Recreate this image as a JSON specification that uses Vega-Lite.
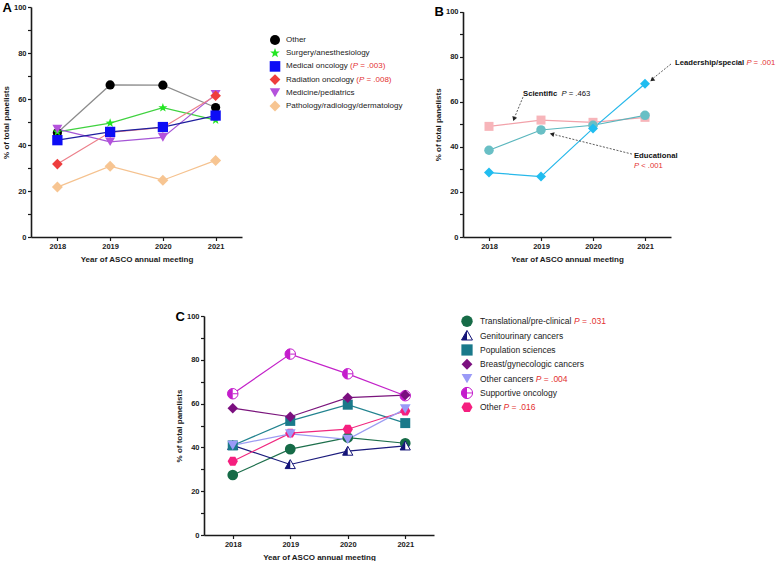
{
"$schema":"https://vega.github.io/schema/vega-lite/v6.json",
"padding":{"left":2,"top":2,"right":0,"bottom":0},
"background":"white",
"bounds":"full",
"spacing":48,
"resolve":{"scale":{"color":"independent","stroke":"independent","shape":"independent","size":"independent"}},
"config":{
 "font":"Liberation Sans",
 "view":{"stroke":null},
 "axis":{"grid":false,"domainColor":"#1a1a1a","domainWidth":1.6,"tickColor":"#1a1a1a","tickWidth":1.2,"tickSize":3.5,"labelFont":"Liberation Sans","labelFontSize":7.5,"labelFontWeight":"bold","labelColor":"#1a1a1a","labelPadding":1.5,"titleFont":"Liberation Sans","titleFontSize":8,"titleFontWeight":"bold","titleColor":"#1a1a1a","labelOverlap":false},
 "axisX":{"titlePadding":5,"labelPadding":2},
 "axisY":{"titlePadding":3},
 "title":{"anchor":"start","frame":"bounds","font":"Liberation Sans","fontSize":13,"fontWeight":"bold","color":"#000000"},
 "text":{"font":"Liberation Sans"}
},
"datasets":{
 "dA":[
  {"g":"Other","year":2018,"pct":45.3},{"g":"Other","year":2019,"pct":66.1},{"g":"Other","year":2020,"pct":66.0},{"g":"Other","year":2021,"pct":56.3},
  {"g":"Surgery/anesthesiology","year":2018,"pct":45.7},{"g":"Surgery/anesthesiology","year":2019,"pct":49.5},{"g":"Surgery/anesthesiology","year":2020,"pct":56.2},{"g":"Surgery/anesthesiology","year":2021,"pct":50.8},
  {"g":"Medicine/pediatrics","year":2018,"pct":46.9},{"g":"Medicine/pediatrics","year":2019,"pct":41.4},{"g":"Medicine/pediatrics","year":2020,"pct":43.3},{"g":"Medicine/pediatrics","year":2021,"pct":62.0},
  {"g":"Radiation oncology","year":2018,"pct":31.7},{"g":"Radiation oncology","year":2019,"pct":45.5},{"g":"Radiation oncology","year":2020,"pct":47.6},{"g":"Radiation oncology","year":2021,"pct":61.4},
  {"g":"Medical oncology","year":2018,"pct":42.1},{"g":"Medical oncology","year":2019,"pct":45.7},{"g":"Medical oncology","year":2020,"pct":47.8},{"g":"Medical oncology","year":2021,"pct":52.8},
  {"g":"Pathology/radiology/dermatology","year":2018,"pct":21.7},{"g":"Pathology/radiology/dermatology","year":2019,"pct":30.8},{"g":"Pathology/radiology/dermatology","year":2020,"pct":24.7},{"g":"Pathology/radiology/dermatology","year":2021,"pct":33.3}
 ],
 "dB":[
  {"g":"Scientific","year":2018,"pct":49.1},{"g":"Scientific","year":2019,"pct":51.9},{"g":"Scientific","year":2020,"pct":50.9},{"g":"Scientific","year":2021,"pct":53.1},
  {"g":"Educational","year":2018,"pct":38.5},{"g":"Educational","year":2019,"pct":47.5},{"g":"Educational","year":2020,"pct":49.6},{"g":"Educational","year":2021,"pct":54.0},
  {"g":"Leadership/special","year":2018,"pct":28.6},{"g":"Leadership/special","year":2019,"pct":26.8},{"g":"Leadership/special","year":2020,"pct":48.2},{"g":"Leadership/special","year":2021,"pct":68.0}
 ],
 "dC":[
  {"g":"Supportive oncology","year":2018,"pct":64.5},{"g":"Supportive oncology","year":2019,"pct":82.6},{"g":"Supportive oncology","year":2020,"pct":73.6},{"g":"Supportive oncology","year":2021,"pct":63.6},
  {"g":"Translational/pre-clinical","year":2018,"pct":27.4},{"g":"Translational/pre-clinical","year":2019,"pct":39.2},{"g":"Translational/pre-clinical","year":2020,"pct":44.5},{"g":"Translational/pre-clinical","year":2021,"pct":41.9},
  {"g":"Genitourinary cancers","year":2018,"pct":40.9},{"g":"Genitourinary cancers","year":2019,"pct":32.2},{"g":"Genitourinary cancers","year":2020,"pct":38.3},{"g":"Genitourinary cancers","year":2021,"pct":40.7},
  {"g":"Population sciences","year":2018,"pct":40.9},{"g":"Population sciences","year":2019,"pct":52.1},{"g":"Population sciences","year":2020,"pct":59.5},{"g":"Population sciences","year":2021,"pct":51.1},
  {"g":"Other","year":2018,"pct":33.7},{"g":"Other","year":2019,"pct":46.5},{"g":"Other","year":2020,"pct":48.3},{"g":"Other","year":2021,"pct":56.6},
  {"g":"Breast/gynecologic cancers","year":2018,"pct":57.9},{"g":"Breast/gynecologic cancers","year":2019,"pct":54.0},{"g":"Breast/gynecologic cancers","year":2020,"pct":62.7},{"g":"Breast/gynecologic cancers","year":2021,"pct":63.9},
  {"g":"Other cancers","year":2018,"pct":40.9},{"g":"Other cancers","year":2019,"pct":46.2},{"g":"Other cancers","year":2020,"pct":43.7},{"g":"Other cancers","year":2021,"pct":57.6}
 ]
},
"vconcat":[
 {
 "resolve":{"scale":{"color":"independent","stroke":"independent","shape":"independent","size":"independent"}},
 "bounds":"flush","spacing":0,
 "hconcat":[
 {
  "width":211,"height":230,
  "title":{"text":"A","offset":-12},
  "data":{"name":"dA"},
  "encoding":{
   "x":{"field":"year","type":"quantitative","scale":{"domain":[2017.5,2021.5],"nice":false,"zero":false},"axis":{"values":[2018,2019,2020,2021],"format":"d","title":"Year of ASCO annual meeting"}},
   "y":{"field":"pct","type":"quantitative","scale":{"domain":[0,100],"nice":false},"axis":{"values":[0,10,20,30,40,50,60,70,80,90,100],"labelExpr":"datum.value % 20 === 0 ? datum.label : ''","title":"% of total panelists"}}
  },
  "layer":[
   {"mark":{"type":"line","strokeWidth":1.2},"encoding":{"stroke":{"field":"g","type":"nominal","scale":{"domain":["Other","Surgery/anesthesiology","Medicine/pediatrics","Medical oncology","Radiation oncology","Pathology/radiology/dermatology"],"range":["#8c8c8c","#3fd23f","#a556d6","#1f1f9e","#ec7f8a","#f5c28f"]},"legend":null}}},
   {"mark":{"type":"point","filled":true,"opacity":1},"encoding":{
     "shape":{"field":"g","type":"nominal","scale":{"domain":["Other","Surgery/anesthesiology","Medicine/pediatrics","Medical oncology","Radiation oncology","Pathology/radiology/dermatology"],"range":["circle","M0,-1L0.235,-0.324L0.951,-0.309L0.38,0.124L0.588,0.809L0,0.4L-0.588,0.809L-0.38,0.124L-0.951,-0.309L-0.235,-0.324Z","triangle-down","square","diamond","diamond"]},"legend":null},
     "color":{"field":"g","type":"nominal","scale":{"domain":["Other","Surgery/anesthesiology","Medicine/pediatrics","Medical oncology","Radiation oncology","Pathology/radiology/dermatology"],"range":["#000000","#22e622","#b452dc","#0d0df5","#ee3d3d","#f7c592"]},"legend":null},
     "size":{"field":"g","type":"nominal","scale":{"domain":["Other","Surgery/anesthesiology","Medicine/pediatrics","Medical oncology","Radiation oncology","Pathology/radiology/dermatology"],"range":[85,120,95,72,80,85]},"legend":null}
   }}
  ]
 },
 {
  "width":221,"height":230,
  "data":{"values":[{"g":"Other"},{"g":"Surgery/anesthesiology"},{"g":"Medical oncology"},{"g":"Radiation oncology"},{"g":"Medicine/pediatrics"},{"g":"Pathology/radiology/dermatology"}]},
  "encoding":{
   "x":{"datum":33,"type":"quantitative","scale":{"domain":[0,221],"nice":false,"zero":false},"axis":null},
   "y":{"field":"g","type":"nominal","sort":null,"scale":{"type":"point","domain":["Other","Surgery/anesthesiology","Medical oncology","Radiation oncology","Medicine/pediatrics","Pathology/radiology/dermatology"],"range":[33,99],"padding":0},"axis":null}
  },
  "layer":[
   {"mark":{"type":"point","filled":true,"opacity":1},"encoding":{
     "shape":{"field":"g","type":"nominal","scale":{"domain":["Other","Surgery/anesthesiology","Medicine/pediatrics","Medical oncology","Radiation oncology","Pathology/radiology/dermatology"],"range":["circle","M0,-1L0.235,-0.324L0.951,-0.309L0.38,0.124L0.588,0.809L0,0.4L-0.588,0.809L-0.38,0.124L-0.951,-0.309L-0.235,-0.324Z","triangle-down","square","diamond","diamond"]},"legend":null},
     "color":{"field":"g","type":"nominal","scale":{"domain":["Other","Surgery/anesthesiology","Medicine/pediatrics","Medical oncology","Radiation oncology","Pathology/radiology/dermatology"],"range":["#000000","#22e622","#b452dc","#0d0df5","#ee3d3d","#f7c592"]},"legend":null},
     "size":{"field":"g","type":"nominal","scale":{"domain":["Other","Surgery/anesthesiology","Medicine/pediatrics","Medical oncology","Radiation oncology","Pathology/radiology/dermatology"],"range":[100,120,100,90,90,90]},"legend":null}
   }},
   {"mark":{"type":"text","align":"left","baseline":"middle","dx":11,"fontSize":8,"color":"#1a1a1a"},"encoding":{"text":{"field":"g"}}},
   {"transform":[{"filter":"datum.g === 'Medical oncology'"}],"layer":[
     {"mark":{"type":"text","text":"(","align":"left","baseline":"middle","dx":75,"fontSize":8,"color":"#e3302f"}},
     {"mark":{"type":"text","text":"P","fontStyle":"italic","align":"left","baseline":"middle","dx":77.7,"fontSize":8,"color":"#e3302f"}},
     {"mark":{"type":"text","text":"= .003)","align":"left","baseline":"middle","dx":85.2,"fontSize":8,"color":"#e3302f"}}
   ]},
   {"transform":[{"filter":"datum.g === 'Radiation oncology'"}],"layer":[
     {"mark":{"type":"text","text":"(","align":"left","baseline":"middle","dx":81.2,"fontSize":8,"color":"#e3302f"}},
     {"mark":{"type":"text","text":"P","fontStyle":"italic","align":"left","baseline":"middle","dx":83.9,"fontSize":8,"color":"#e3302f"}},
     {"mark":{"type":"text","text":"= .008)","align":"left","baseline":"middle","dx":91.4,"fontSize":8,"color":"#e3302f"}}
   ]}
  ]
 },
 {
  "width":208,"height":230,
  "title":{"text":"B","offset":-12},
  "encoding":{
   "x":{"field":"year","type":"quantitative","scale":{"domain":[2017.5,2021.5],"nice":false,"zero":false},"axis":{"values":[2018,2019,2020,2021],"format":"d","title":"Year of ASCO annual meeting"}},
   "y":{"field":"pct","type":"quantitative","scale":{"domain":[0,100],"nice":false,"range":[230,4.7]},"axis":{"values":[0,10,20,30,40,50,60,70,80,90,100],"labelExpr":"datum.value % 20 === 0 ? datum.label : ''","title":"% of total panelists"}}
  },
  "layer":[
   {"data":{"name":"dB"},"layer":[
    {"mark":{"type":"line","strokeWidth":1.2},"encoding":{"stroke":{"field":"g","type":"nominal","scale":{"domain":["Scientific","Educational","Leadership/special"],"range":["#f2a2aa","#5ab6bd","#27b8ea"]},"legend":null}}},
    {"mark":{"type":"point","filled":true,"opacity":1},"encoding":{
      "shape":{"field":"g","type":"nominal","scale":{"domain":["Scientific","Educational","Leadership/special"],"range":["square","circle","diamond"]},"legend":null},
      "color":{"field":"g","type":"nominal","scale":{"domain":["Scientific","Educational","Leadership/special"],"range":["#f7b5ba","#69bfc5","#20bdf0"]},"legend":null},
      "size":{"field":"g","type":"nominal","scale":{"domain":["Scientific","Educational","Leadership/special"],"range":[81,100,95]},"legend":null}
    }}
   ]},
   {"data":{"values":[{"year":2018.654,"pct":62.1,"year2":2018.49,"pct2":53.0}]},"mark":{"type":"rule","strokeDash":[2,1.5],"strokeWidth":0.8,"color":"#333333"},"encoding":{"x2":{"field":"year2"},"y2":{"field":"pct2"}}},
   {"data":{"values":[{"year":2018.481,"pct":52.4}]},"mark":{"type":"point","shape":"triangle-up","filled":true,"size":25,"angle":200,"color":"#222222","opacity":1}},
   {"data":{"values":[{"year":2020.75,"pct":36.8,"year2":2019.25,"pct2":45.5}]},"mark":{"type":"rule","strokeDash":[2,1.5],"strokeWidth":0.8,"color":"#333333"},"encoding":{"x2":{"field":"year2"},"y2":{"field":"pct2"}}},
   {"data":{"values":[{"year":2019.21,"pct":45.7}]},"mark":{"type":"point","shape":"triangle-up","filled":true,"size":25,"angle":284,"color":"#222222","opacity":1}},
   {"data":{"values":[{"year":2021.5,"pct":76.8,"year2":2021.15,"pct2":70.3}]},"mark":{"type":"rule","strokeDash":[2,1.5],"strokeWidth":0.8,"color":"#333333"},"encoding":{"x2":{"field":"year2"},"y2":{"field":"pct2"}}},
   {"data":{"values":[{"year":2021.135,"pct":69.7}]},"mark":{"type":"point","shape":"triangle-up","filled":true,"size":25,"angle":230,"color":"#222222","opacity":1}},
   {"data":{"values":[{"year":2018.654,"pct":63.5}]},"layer":[
     {"mark":{"type":"text","text":"Scientific","align":"left","baseline":"middle","fontSize":7.7,"fontWeight":"bold","color":"#111111"}},
     {"mark":{"type":"text","text":"P","fontStyle":"italic","align":"left","baseline":"middle","fontSize":7.7,"dx":38.5,"color":"#111111"}},
     {"mark":{"type":"text","text":"= .463","align":"left","baseline":"middle","fontSize":7.7,"dx":45.7,"color":"#111111"}}
   ]},
   {"data":{"values":[{"year":2020.788,"pct":36.0}]},"mark":{"type":"text","text":"Educational","align":"left","baseline":"middle","fontSize":7.7,"fontWeight":"bold","color":"#111111"}},
   {"data":{"values":[{"year":2020.788,"pct":31.5}]},"layer":[
     {"mark":{"type":"text","text":"P","fontStyle":"italic","align":"left","baseline":"middle","fontSize":7.7,"color":"#e3302f"}},
     {"mark":{"type":"text","text":"< .001","align":"left","baseline":"middle","fontSize":7.7,"dx":7.2,"color":"#e3302f"}}
   ]},
   {"data":{"values":[{"year":2021.577,"pct":77.2}]},"layer":[
     {"mark":{"type":"text","text":"Leadership/special","align":"left","baseline":"middle","fontSize":7.7,"fontWeight":"bold","color":"#111111"}},
     {"mark":{"type":"text","text":"P","fontStyle":"italic","align":"left","baseline":"middle","fontSize":7.7,"dx":71.4,"color":"#e3302f"}},
     {"mark":{"type":"text","text":"= .001","align":"left","baseline":"middle","fontSize":7.7,"dx":78.6,"color":"#e3302f"}}
   ]}
  ]
 }
 ]
 },
 {
 "resolve":{"scale":{"color":"independent","stroke":"independent","shape":"independent","size":"independent"}},
 "bounds":"flush","spacing":0,
 "hconcat":[
 {
  "width":173,"height":219,
  "data":{"values":[{}]},
  "mark":{"type":"text","text":""},
  "encoding":{}
 },
 {
  "width":230,"height":219,
  "title":{"text":"C","offset":-12},
  "data":{"name":"dC"},
  "encoding":{
   "x":{"field":"year","type":"quantitative","scale":{"domain":[2017.5,2021.5],"nice":false,"zero":false},"axis":{"values":[2018,2019,2020,2021],"format":"d","title":"Year of ASCO annual meeting"}},
   "y":{"field":"pct","type":"quantitative","scale":{"domain":[0,100],"nice":false},"axis":{"values":[0,10,20,30,40,50,60,70,80,90,100],"labelExpr":"datum.value % 20 === 0 ? datum.label : ''","title":"% of total panelists"}}
  },
  "layer":[
   {"mark":{"type":"line","strokeWidth":1.2},"encoding":{"stroke":{"field":"g","type":"nominal","scale":{"domain":["Supportive oncology","Translational/pre-clinical","Genitourinary cancers","Population sciences","Other","Breast/gynecologic cancers","Other cancers"],"range":["#c322c9","#1d6f4c","#1b1b7c","#22838f","#f0287f","#7a147c","#9c9cf2"]},"legend":null}}},
   {"transform":[{"filter":"datum.g === 'Supportive oncology'"}],"layer":[
     {"mark":{"type":"point","shape":"circle","filled":true,"fill":"#ffffff","stroke":"#c41dcc","strokeWidth":1,"size":110,"opacity":1}},
     {"mark":{"type":"point","shape":"M0,-1A1,1 0 0,0 0,1Z","filled":true,"color":"#c41dcc","strokeWidth":0,"size":110,"opacity":1}},
     {"mark":{"type":"point","shape":"M0,0L1,0","filled":false,"stroke":"#c41dcc","strokeWidth":1,"size":110,"opacity":1}}
   ]},
   {"transform":[{"filter":"datum.g === 'Translational/pre-clinical'"}],"mark":{"type":"point","shape":"circle","filled":true,"color":"#166b47","size":115,"opacity":1}},
   {"transform":[{"filter":"datum.g === 'Genitourinary cancers'"}],"layer":[
     {"mark":{"type":"point","shape":"M0,-0.95L1,0.8L-1,0.8Z","filled":true,"fill":"#ffffff","stroke":"#141478","strokeWidth":1,"size":105,"opacity":1}},
     {"mark":{"type":"point","shape":"M0,-0.95L-1,0.8L0,0.8Z","filled":true,"color":"#141478","strokeWidth":0,"size":105,"opacity":1}}
   ]},
   {"transform":[{"filter":{"field":"g","oneOf":["Population sciences","Other","Breast/gynecologic cancers","Other cancers"]}}],"mark":{"type":"point","filled":true,"opacity":1},"encoding":{
     "shape":{"field":"g","type":"nominal","scale":{"domain":["Population sciences","Other","Breast/gynecologic cancers","Other cancers"],"range":["square","M1,0L0.5,0.866L-0.5,0.866L-1,0L-0.5,-0.866L0.5,-0.866Z","diamond","triangle-down"]},"legend":null},
     "color":{"field":"g","type":"nominal","scale":{"domain":["Population sciences","Other","Breast/gynecologic cancers","Other cancers"],"range":["#19798a","#f51f7f","#7b0f7f","#9a9af7"]},"legend":null},
     "size":{"field":"g","type":"nominal","scale":{"domain":["Population sciences","Other","Breast/gynecologic cancers","Other cancers"],"range":[100,115,100,115]},"legend":null}
   }}
  ]
 },
 {
  "width":200,"height":219,
  "data":{"values":[{"g":"Translational/pre-clinical"},{"g":"Genitourinary cancers"},{"g":"Population sciences"},{"g":"Breast/gynecologic cancers"},{"g":"Other cancers"},{"g":"Supportive oncology"},{"g":"Other"}]},
  "encoding":{
   "x":{"datum":33,"type":"quantitative","scale":{"domain":[0,200],"nice":false,"zero":false},"axis":null},
   "y":{"field":"g","type":"nominal","sort":null,"scale":{"type":"point","domain":["Translational/pre-clinical","Genitourinary cancers","Population sciences","Breast/gynecologic cancers","Other cancers","Supportive oncology","Other"],"range":[5.3,91.3],"padding":0},"axis":null}
  },
  "layer":[
   {"transform":[{"filter":{"field":"g","oneOf":["Translational/pre-clinical","Population sciences","Other","Breast/gynecologic cancers","Other cancers"]}}],"mark":{"type":"point","filled":true,"opacity":1},"encoding":{
     "shape":{"field":"g","type":"nominal","scale":{"domain":["Translational/pre-clinical","Population sciences","Other","Breast/gynecologic cancers","Other cancers"],"range":["circle","square","M1,0L0.5,0.866L-0.5,0.866L-1,0L-0.5,-0.866L0.5,-0.866Z","diamond","triangle-down"]},"legend":null},
     "color":{"field":"g","type":"nominal","scale":{"domain":["Translational/pre-clinical","Population sciences","Other","Breast/gynecologic cancers","Other cancers"],"range":["#166b47","#19798a","#f51f7f","#7b0f7f","#9a9af7"]},"legend":null},
     "size":{"field":"g","type":"nominal","scale":{"domain":["Translational/pre-clinical","Population sciences","Other","Breast/gynecologic cancers","Other cancers"],"range":[130,115,130,115,130]},"legend":null}
   }},
   {"transform":[{"filter":"datum.g === 'Supportive oncology'"}],"layer":[
     {"mark":{"type":"point","shape":"circle","filled":true,"fill":"#ffffff","stroke":"#c41dcc","strokeWidth":1,"size":125,"opacity":1}},
     {"mark":{"type":"point","shape":"M0,-1A1,1 0 0,0 0,1Z","filled":true,"color":"#c41dcc","strokeWidth":0,"size":125,"opacity":1}},
     {"mark":{"type":"point","shape":"M0,0L1,0","filled":false,"stroke":"#c41dcc","strokeWidth":1,"size":125,"opacity":1}}
   ]},
   {"transform":[{"filter":"datum.g === 'Genitourinary cancers'"}],"layer":[
     {"mark":{"type":"point","shape":"M0,-0.95L1,0.8L-1,0.8Z","filled":true,"fill":"#ffffff","stroke":"#141478","strokeWidth":1,"size":120,"opacity":1}},
     {"mark":{"type":"point","shape":"M0,-0.95L-1,0.8L0,0.8Z","filled":true,"color":"#141478","strokeWidth":0,"size":120,"opacity":1}}
   ]},
   {"mark":{"type":"text","align":"left","baseline":"middle","dx":13,"fontSize":8.5,"color":"#1a1a1a"},"encoding":{"text":{"field":"g"}}},
   {"transform":[{"filter":"datum.g === 'Translational/pre-clinical'"}],"layer":[
     {"mark":{"type":"text","text":"P","fontStyle":"italic","align":"left","baseline":"middle","dx":107,"fontSize":8.5,"color":"#e3302f"}},
     {"mark":{"type":"text","text":"= .031","align":"left","baseline":"middle","dx":115,"fontSize":8.5,"color":"#e3302f"}}
   ]},
   {"transform":[{"filter":"datum.g === 'Other cancers'"}],"layer":[
     {"mark":{"type":"text","text":"P","fontStyle":"italic","align":"left","baseline":"middle","dx":68.7,"fontSize":8.5,"color":"#e3302f"}},
     {"mark":{"type":"text","text":"= .004","align":"left","baseline":"middle","dx":76.7,"fontSize":8.5,"color":"#e3302f"}}
   ]},
   {"transform":[{"filter":"datum.g === 'Other'"}],"layer":[
     {"mark":{"type":"text","text":"P","fontStyle":"italic","align":"left","baseline":"middle","dx":36.6,"fontSize":8.5,"color":"#e3302f"}},
     {"mark":{"type":"text","text":"= .016","align":"left","baseline":"middle","dx":44.6,"fontSize":8.5,"color":"#e3302f"}}
   ]}
  ]
 }
 ]
 }
]
}
